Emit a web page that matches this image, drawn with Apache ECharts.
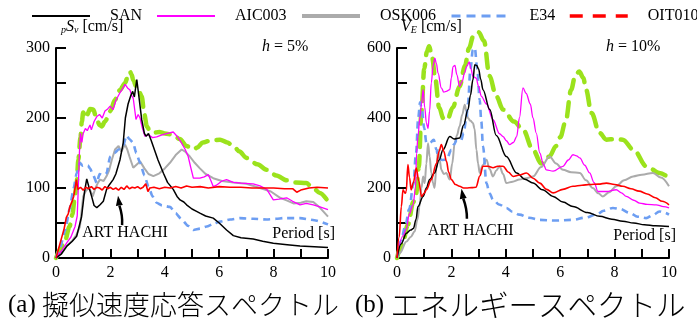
<!DOCTYPE html>
<html><head><meta charset="utf-8">
<script src="https://cdn.jsdelivr.net/npm/echarts@6/dist/echarts.min.js"></script>
<style>html,body{margin:0;padding:0;background:#fff}#c{width:697px;height:323px}</style>
</head><body><div id="c"></div>
<script>
// ---- data: (a) pseudo velocity response spectra pSv [cm/s], h = 5%
const periodTicks = [0, 2, 4, 6, 8, 10];
const svTicks = [0, 100, 200, 300];
const veTicks = [0, 200, 400, 600];
const legendNames = ['SAN', 'AIC003', 'OSK006', 'E34', 'OIT010'];

const sv_SAN = [[0,0],[0.2,6],[0.4,17],[0.6,24],[0.76,31],[0.85,45],[0.94,59],[1.05,95],[1.13,113],[1.22,100],[1.31,88],[1.4,75],[1.5,72],[1.62,76],[1.74,81],[1.86,98],[1.95,104],[2.1,112],[2.2,120],[2.35,140],[2.47,164],[2.55,200],[2.65,220],[2.75,232],[2.82,238],[2.88,230],[2.97,255],[3.05,230],[3.15,198],[3.25,178],[3.31,174],[3.4,178],[3.5,168],[3.58,159],[3.75,140],[3.95,121],[4.1,108],[4.31,98],[4.45,88],[4.56,83],[4.7,80],[4.8,76],[5.0,70],[5.15,67],[5.29,64],[5.5,60],[5.78,57],[6.0,50],[6.27,40],[6.52,32],[6.8,29],[7.25,27],[7.6,24],[7.99,21],[8.5,19],[8.97,17],[9.5,16],[10,15]];
const sv_AIC003 = [[0,0],[0.2,10],[0.4,22],[0.55,30],[0.7,45],[0.78,60],[0.82,100],[0.86,150],[0.9,178],[0.95,165],[1.0,178],[1.08,185],[1.15,182],[1.25,190],[1.3,183],[1.4,195],[1.5,202],[1.6,205],[1.7,200],[1.8,210],[1.9,213],[1.99,217],[2.1,212],[2.2,225],[2.35,236],[2.45,242],[2.54,248],[2.63,243],[2.72,240],[2.78,232],[2.84,228],[2.9,210],[2.94,198],[3.02,205],[3.09,200],[3.18,185],[3.27,174],[3.4,176],[3.55,172],[3.7,173],[3.9,176],[4.1,178],[4.31,180],[4.45,174],[4.62,164],[4.75,155],[4.86,145],[4.95,130],[5.05,114],[5.29,114],[5.45,116],[5.6,119],[5.7,110],[5.78,102],[5.9,104],[6.1,110],[6.27,112],[6.52,108],[6.8,107],[7.25,106],[7.5,103],[7.75,98],[7.99,83],[8.2,84],[8.48,86],[8.7,81],[8.97,76],[9.2,78],[9.46,76],[9.7,73],[10,69]];
const sv_OSK006 = [[0,0],[0.2,6],[0.39,17],[0.6,25],[0.75,33],[0.88,45],[0.95,70],[1.0,88],[1.1,96],[1.2,100],[1.28,95],[1.35,88],[1.45,100],[1.55,108],[1.62,112],[1.75,110],[1.86,117],[1.95,125],[2.05,140],[2.17,155],[2.3,160],[2.4,152],[2.47,150],[2.54,162],[2.62,155],[2.7,145],[2.84,129],[2.95,133],[3.09,138],[3.25,128],[3.4,120],[3.58,117],[3.8,121],[4.0,128],[4.19,136],[4.4,147],[4.62,155],[4.75,152],[4.92,145],[5.1,136],[5.29,128],[5.5,120],[5.78,114],[6.1,110],[6.52,108],[7.0,106],[7.5,100],[7.9,95],[8.24,86],[8.5,82],[8.73,78],[9.0,79],[9.2,81],[9.46,80],[9.7,72],[10,59]];
const sv_E34 = [[0,0],[0.15,15],[0.34,40],[0.5,70],[0.65,100],[0.76,121],[0.88,136],[0.98,132],[1.07,133],[1.17,132],[1.25,128],[1.35,120],[1.5,107],[1.6,120],[1.73,118],[1.86,121],[1.99,145],[2.15,150],[2.3,155],[2.47,160],[2.59,175],[2.7,170],[2.84,164],[2.95,150],[3.09,136],[3.25,118],[3.4,102],[3.55,88],[3.7,79],[3.9,75],[4.19,73],[4.4,64],[4.62,55],[4.85,46],[5.05,40],[5.3,42],[5.54,45],[5.8,49],[6.03,52],[6.4,55],[6.76,57],[7.25,56],[7.75,55],[8.1,56],[8.36,57],[8.97,57],[9.5,54],[10,48]];
const sv_OIT010 = [[0,0],[0.3,20],[0.5,45],[0.6,62],[0.7,90],[0.76,107],[0.82,140],[0.9,172],[0.95,195],[1.0,208],[1.07,200],[1.15,205],[1.25,213],[1.37,212],[1.5,198],[1.6,190],[1.68,188],[1.8,195],[1.9,200],[2.0,210],[2.17,226],[2.35,240],[2.54,250],[2.63,258],[2.72,266],[2.78,262],[2.84,254],[2.95,245],[3.05,238],[3.15,231],[3.25,205],[3.34,188],[3.45,182],[3.58,179],[3.8,180],[4.0,178],[4.3,176],[4.55,170],[4.8,160],[5.05,155],[5.2,158],[5.4,165],[5.7,168],[6.03,169],[6.3,165],[6.52,160],[6.75,152],[7.0,143],[7.4,134],[7.75,126],[8.1,118],[8.48,111],[8.8,108],[9.2,107],[9.45,100],[9.7,93],[10,81]];
const sv_ART = [[0,0],[0.1,14],[0.2,28],[0.3,42],[0.38,58],[0.45,63],[0.5,72],[0.55,70],[0.6,82],[0.65,88],[0.7,100],[0.75,112],[0.8,98],[0.9,101],[1.0,97],[1.1,101],[1.2,99],[1.3,102],[1.4,98],[1.5,101],[1.6,100],[1.7,97],[1.8,102],[1.9,99],[2.0,101],[2.1,98],[2.2,100],[2.3,97],[2.4,101],[2.5,98],[2.6,103],[2.7,99],[2.8,101],[2.9,100],[3.0,102],[3.1,99],[3.2,101],[3.3,106],[3.38,95],[3.45,100],[3.6,101],[3.8,99],[4.0,101],[4.2,100],[4.4,102],[4.6,100],[4.8,103],[5.0,101],[5.3,102],[5.6,100],[6.0,102],[6.4,101],[6.8,101],[7.2,100],[7.6,100],[8.0,100],[8.4,99],[8.7,99],[8.85,94],[9.0,97],[9.3,100],[9.6,101],[10,100]];

// ---- data: (b) energy spectra VE [cm/s], h = 10%
const ve_SAN = [[0,0],[0.15,40],[0.35,71],[0.5,80],[0.6,84],[0.7,110],[0.77,147],[0.96,176],[1.08,200],[1.2,224],[1.38,243],[1.55,280],[1.69,309],[1.94,347],[2.1,340],[2.3,343],[2.45,380],[2.61,424],[2.7,465],[2.79,509],[2.86,552],[2.93,550],[3.0,540],[3.08,510],[3.16,481],[3.41,424],[3.65,350],[4.02,290],[4.4,243],[4.7,225],[5.0,214],[5.35,195],[5.74,176],[6.1,160],[6.47,147],[7.0,130],[7.45,119],[7.9,111],[8.3,105],[8.7,100],[9.1,95],[9.5,92],[10,90]];
const ve_AIC003 = [[0,0],[0.22,63],[0.34,82],[0.45,125],[0.59,152],[0.68,200],[0.72,300],[0.77,347],[0.84,400],[0.9,440],[0.96,481],[1.02,430],[1.08,386],[1.14,370],[1.2,420],[1.26,500],[1.33,550],[1.39,571],[1.45,555],[1.51,528],[1.63,486],[1.72,474],[1.81,476],[1.94,481],[2.0,515],[2.06,547],[2.13,550],[2.2,524],[2.3,490],[2.4,505],[2.48,528],[2.57,548],[2.65,560],[2.72,540],[2.79,519],[2.91,514],[3.0,490],[3.1,462],[3.29,440],[3.53,395],[3.77,355],[3.9,347],[4.02,335],[4.14,324],[4.28,330],[4.4,347],[4.5,400],[4.63,486],[4.75,470],[4.9,440],[5.0,400],[5.12,357],[5.25,300],[5.38,268],[5.49,252],[5.74,248],[6.1,262],[6.3,280],[6.47,295],[6.6,292],[6.72,286],[6.9,265],[7.08,243],[7.25,215],[7.39,190],[7.7,190],[8.06,195],[8.25,186],[8.43,176],[8.7,165],[8.92,157],[9.2,153],[9.53,152],[9.8,147],[10,143]];
const ve_OSK006 = [[0,0],[0.1,14],[0.35,47],[0.5,60],[0.65,76],[0.75,110],[0.83,147],[0.9,200],[0.96,233],[1.02,214],[1.08,270],[1.14,328],[1.2,290],[1.26,243],[1.32,215],[1.38,200],[1.45,260],[1.51,309],[1.57,280],[1.63,252],[1.72,240],[1.81,243],[1.94,224],[2.03,270],[2.12,328],[2.2,350],[2.3,376],[2.4,410],[2.49,438],[2.55,420],[2.61,400],[2.7,392],[2.79,386],[2.85,370],[2.92,309],[2.98,270],[3.04,243],[3.15,265],[3.29,281],[3.4,255],[3.53,233],[3.65,250],[3.77,262],[3.9,240],[4.02,214],[4.25,218],[4.5,224],[4.75,228],[5.0,233],[5.3,260],[5.61,290],[5.85,270],[6.1,252],[6.4,245],[6.72,243],[6.95,222],[7.2,200],[7.4,185],[7.57,176],[7.8,188],[8.06,205],[8.35,222],[8.68,233],[9.0,238],[9.41,243],[9.7,230],[10,205]];
const ve_E34 = [[0,0],[0.15,50],[0.3,90],[0.45,140],[0.6,210],[0.7,300],[0.78,400],[0.85,445],[0.92,420],[1.0,371],[1.08,330],[1.2,328],[1.35,338],[1.45,310],[1.51,290],[1.65,280],[1.82,281],[2.0,309],[2.1,325],[2.2,338],[2.35,335],[2.45,357],[2.55,400],[2.61,443],[2.7,540],[2.79,595],[2.86,600],[2.95,540],[3.04,452],[3.1,390],[3.16,320],[3.29,214],[3.4,185],[3.53,167],[3.75,153],[4.02,143],[4.25,132],[4.5,124],[4.85,115],[5.25,109],[5.8,107],[6.47,109],[6.9,115],[7.33,124],[7.6,135],[7.94,143],[8.2,140],[8.55,129],[8.85,118],[9.16,114],[9.4,122],[9.65,133],[9.8,130],[10,124]];
const ve_OIT010 = [[0,0],[0.2,40],[0.4,95],[0.6,160],[0.71,186],[0.8,260],[0.9,420],[1.0,540],[1.1,590],[1.18,605],[1.3,570],[1.4,515],[1.55,430],[1.7,400],[1.85,395],[2.05,430],[2.3,490],[2.5,550],[2.65,600],[2.8,633],[3.0,645],[3.2,620],[3.4,520],[3.65,462],[3.9,424],[4.3,390],[4.63,367],[5.0,309],[5.3,270],[5.6,290],[5.85,320],[6.0,345],[6.2,390],[6.4,480],[6.55,520],[6.7,533],[6.85,515],[6.95,481],[7.15,414],[7.45,357],[7.7,338],[8.0,340],[8.3,338],[8.7,309],[9.17,262],[9.65,243],[10,229]];
const ve_ART = [[0,0],[0.08,60],[0.16,147],[0.22,195],[0.3,185],[0.34,190],[0.4,267],[0.46,230],[0.52,195],[0.6,215],[0.71,257],[0.8,220],[0.9,176],[1.0,185],[1.08,195],[1.26,224],[1.45,270],[1.55,305],[1.63,324],[1.72,305],[1.82,276],[1.9,245],[2.0,224],[2.15,210],[2.3,205],[2.45,200],[2.55,200],[2.75,201],[2.9,202],[3.05,235],[3.16,262],[3.35,262],[3.53,258],[3.7,262],[3.9,262],[4.1,245],[4.27,233],[4.5,237],[4.76,243],[5.0,228],[5.25,214],[5.5,196],[5.74,186],[6.1,196],[6.47,205],[6.8,208],[7.08,210],[7.4,211],[7.7,214],[8.0,210],[8.3,205],[8.6,198],[8.9,191],[9.2,183],[9.5,172],[9.75,162],[10,152]];

// annotation anchors (data coords)
const artLabelL = [2.54, 36], artTailL = [2.43, 47], artTipL = [2.28, 89];
const artLabelR = [2.71, 78], artTailR = [2.57, 112], artTipR = [2.37, 198];

const SERIF = 'Liberation Serif, Times New Roman, serif';
const chart = echarts.init(document.getElementById('c'), null, {renderer: 'canvas'});

const styles = {
  SAN: {color: '#000000', width: 1.5},
  AIC003: {color: '#ff00ff', width: 1.3},
  OSK006: {color: '#ababab', width: 2},
  E34: {color: '#6d9ef2', width: 2.6, type: [7, 5]},
  OIT010: {color: '#9be21c', width: 4.5, type: [14, 9], cap: 'round'},
  ART: {color: '#ff0000', width: 1.6}
};
function mk(name, key, data, i, smooth) {
  const st = styles[key];
  return {name, type: 'line', xAxisIndex: i, yAxisIndex: i, data, symbol: 'none', smooth: smooth,
    smoothMonotone: 'x', lineStyle: st, itemStyle: {color: st.color}, animation: false, clip: false};
}
const series = [];
[[0, sv_OIT010, sv_OSK006, sv_E34, sv_AIC003, sv_SAN, sv_ART, false],
 [1, ve_OIT010, ve_OSK006, ve_E34, ve_AIC003, ve_SAN, ve_ART, 0.35]].forEach(r => {
  const [i, g, o, e, a, s, art, sm] = r;
  series.push(mk('OIT010', 'OIT010', g, i, sm === false ? 0.3 : sm));
  series.push(mk('OSK006', 'OSK006', o, i, sm === false ? false : sm));
  series.push(mk('E34', 'E34', e, i, sm === false ? 0.2 : sm));
  series.push(mk('AIC003', 'AIC003', a, i, sm === false ? false : sm));
  series.push(mk('SAN', 'SAN', s, i, sm === false ? false : sm));
  series.push(mk('ART HACHI', 'ART', art, i, sm === false ? false : sm));
});

function xAx(i) {
  return {type: 'value', gridIndex: i, min: 0, max: 10, interval: 1,
    axisLine: {lineStyle: {color: '#000', width: 2}},
    axisTick: {inside: true, length: 9, lineStyle: {color: '#000', width: 2}},
    axisLabel: {formatter: v => periodTicks.includes(v) ? String(v) : '', fontFamily: SERIF, fontSize: 16, color: '#000', margin: 7},
    splitLine: {show: false}};
}
function yAx(i, max, step, ticks) {
  return {type: 'value', gridIndex: i, min: 0, max: max, interval: step,
    axisLine: {show: true, lineStyle: {color: '#000', width: 2}},
    axisTick: {show: true, inside: true, length: 10, lineStyle: {color: '#000', width: 2}},
    axisLabel: {formatter: v => ticks.includes(v) ? String(v) : '', fontFamily: SERIF, fontSize: 16, color: '#000', margin: 6},
    splitLine: {show: false}};
}

// one legend block per entry, placed like the reference
const legendLefts = [31, 156, 300, 450, 568];
const legendOverrides = [
  {},
  {},
  {lineStyle: {width: 4}},
  {lineStyle: {width: 3, type: [9, 6]}},
  {itemStyle: {color: '#ff0000'}, lineStyle: {color: '#ff0000', width: 3.5, type: [13, 10], cap: 'butt'}}
];
const legends = legendNames.map((n, k) => ({
  left: legendLefts[k], top: 8, padding: 0, itemWidth: 58, itemHeight: 12, itemGap: 0,
  itemStyle: {opacity: 0},
  textStyle: {fontFamily: SERIF, fontSize: 16, color: '#000', padding: [0, 0, 0, 15]},
  data: [Object.assign({name: n}, legendOverrides[k])]
}));

chart.setOption({
  backgroundColor: '#fff',
  animation: false,
  grid: [{left: 56, top: 48, width: 272, height: 210}, {left: 397, top: 48, width: 272, height: 210}],
  xAxis: [xAx(0), xAx(1)],
  yAxis: [yAx(0, 300, 50, svTicks), yAx(1, 600, 100, veTicks)],
  legend: legends,
  series
});

function px(i, p) { return chart.convertToPixel({gridIndex: i}, p); }
function arrow(i, tail, tip) {
  const a = px(i, tail), b = px(i, tip);
  const dx = b[0] - a[0], dy = b[1] - a[1], L = Math.hypot(dx, dy);
  const ux = dx / L, uy = dy / L, hl = 10, hw = 3.5;
  const base = [b[0] - ux * hl, b[1] - uy * hl];
  const mid = [(a[0] + base[0]) / 2 + 2, (a[1] + base[1]) / 2];
  return [
    {type: 'bezierCurve', shape: {x1: a[0], y1: a[1], x2: base[0], y2: base[1], cpx1: mid[0], cpy1: mid[1]},
      style: {stroke: '#000', lineWidth: 2.5, fill: null}, z: 100},
    {type: 'polygon', shape: {points: [[b[0], b[1]], [base[0] - uy * hw, base[1] + ux * hw], [base[0] + uy * hw, base[1] - ux * hw]]},
      style: {fill: '#000'}, z: 100}
  ];
}
const base16 = {fontFamily: SERIF, fontSize: 16, fill: '#000', textVerticalAlign: 'middle'};
function txt(x, y, text, opts) {
  return {type: 'text', x, y, z: 100, style: Object.assign({text}, base16, opts || {})};
}
const richSub = {
  s: {fontStyle: 'italic', fontFamily: SERIF, fontSize: 10, verticalAlign: 'bottom', padding: [7, 0, 0, 0]},
  i: {fontStyle: 'italic', fontFamily: SERIF, fontSize: 16},
  n: {fontFamily: SERIF, fontSize: 16}
};
const lL = px(0, artLabelL), lR = px(1, artLabelR);
const graphics = [].concat(
  arrow(0, artTailL, artTipL), arrow(1, artTailR, artTipR),
  [
    txt(lL[0], lL[1], 'ART HACHI', {textAlign: 'center'}),
    txt(lR[0], lR[1], 'ART HACHI', {textAlign: 'center'}),
    txt(335, 234, 'Period [s]', {textAlign: 'right'}),
    txt(676, 236, 'Period [s]', {textAlign: 'right'}),
    txt(262, 47, '{i|h}{n| = 5%}', {rich: richSub}),
    txt(606, 47, '{i|h}{n| = 10%}', {rich: richSub}),
    txt(61, 27, '{s|p}{i|S}{s|v}{n| [cm/s]}', {rich: richSub}),
    txt(401, 27, '{i|V}{s|E}{n| [cm/s]}', {rich: richSub}),
    {type: 'text', x: 8, y: 305, z: 100, style: {text: '{a|(a) }{j|擬似速度応答スペクトル}', fill: '#000', textVerticalAlign: 'middle',
      rich: {a: {fontFamily: SERIF, fontSize: 25}, j: {fontFamily: 'Noto Sans CJK JP', fontSize: 27, fontWeight: 300}}}},
    {type: 'text', x: 355, y: 305, z: 100, style: {text: '{a|(b) }{j|エネルギースペクトル}', fill: '#000', textVerticalAlign: 'middle',
      rich: {a: {fontFamily: SERIF, fontSize: 25}, j: {fontFamily: 'Noto Sans CJK JP', fontSize: 29.5, fontWeight: 300}}}}
  ]);
chart.setOption({graphic: graphics});
</script>
</body></html>
